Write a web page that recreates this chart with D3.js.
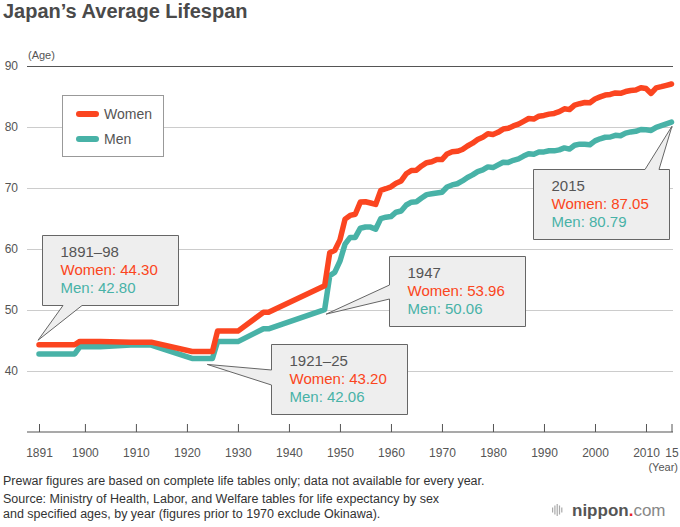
<!DOCTYPE html>
<html>
<head>
<meta charset="utf-8">
<script src="https://cdn.jsdelivr.net/npm/d3@7"></script>
<style>
  body { margin: 0; background: #fff; }
  svg { font-family: "Liberation Sans", Arial, Helvetica, sans-serif; }
</style>
</head>
<body>
<svg id="svg1" width="680" height="527"></svg>
<script>
// prewar complete life tables (period start/end years), then yearly from 1947
var years = [1891, 1898, 1899, 1903, 1909, 1913, 1921, 1925, 1926, 1930, 1935, 1936, 1947,
    1948, 1949, 1950, 1951, 1952, 1953, 1954, 1955, 1956, 1957, 1958, 1959,
    1960, 1961, 1962, 1963, 1964, 1965, 1966, 1967, 1968, 1969,
    1970, 1971, 1972, 1973, 1974, 1975, 1976, 1977, 1978, 1979,
    1980, 1981, 1982, 1983, 1984, 1985, 1986, 1987, 1988, 1989,
    1990, 1991, 1992, 1993, 1994, 1995, 1996, 1997, 1998, 1999,
    2000, 2001, 2002, 2003, 2004, 2005, 2006, 2007, 2008, 2009,
    2010, 2011, 2012, 2013, 2014, 2015];

var women = [44.30, 44.30, 44.85, 44.85, 44.73, 44.73, 43.20, 43.20, 46.54, 46.54, 49.63, 49.63, 53.96,
    59.40, 59.80, 61.50, 64.90, 65.50, 65.70, 67.69, 67.75, 67.54, 67.30, 69.61, 69.88,
    70.19, 70.79, 71.16, 72.34, 72.87, 72.92, 73.61, 74.15, 74.30, 74.67,
    74.66, 75.58, 75.94, 76.02, 76.31, 76.89, 77.35, 77.95, 78.33, 78.89,
    78.76, 79.13, 79.66, 79.78, 80.18, 80.48, 80.93, 81.39, 81.30, 81.77,
    81.90, 82.11, 82.22, 82.51, 82.98, 82.85, 83.59, 83.82, 84.01, 83.99,
    84.60, 84.93, 85.23, 85.33, 85.59, 85.52, 85.81, 85.99, 86.05, 86.44,
    86.30, 85.50, 86.41, 86.61, 86.83, 87.05];

var men = [42.80, 42.80, 43.97, 43.97, 44.25, 44.25, 42.06, 42.06, 44.82, 44.82, 46.92, 46.92, 50.06,
    55.60, 56.20, 58.00, 60.80, 61.90, 61.90, 63.41, 63.60, 63.59, 63.24, 64.98, 65.21,
    65.32, 66.03, 66.23, 67.21, 67.67, 67.74, 68.35, 68.91, 69.05, 69.18,
    69.31, 70.17, 70.50, 70.70, 71.16, 71.73, 72.15, 72.69, 72.97, 73.46,
    73.35, 73.79, 74.22, 74.20, 74.54, 74.78, 75.23, 75.61, 75.54, 75.91,
    75.92, 76.11, 76.09, 76.25, 76.57, 76.38, 77.01, 77.19, 77.16, 77.10,
    77.72, 78.07, 78.32, 78.36, 78.64, 78.56, 79.00, 79.19, 79.29, 79.59,
    79.55, 79.44, 79.94, 80.21, 80.50, 80.79];

var tickYears = [1891, 1900, 1910, 1920, 1930, 1940, 1950, 1960, 1970, 1980, 1990, 2000, 2010, 2015];
var tickAges = [40, 50, 60, 70, 80, 90];

var callouts = [
    {label: '1891\u201398', year: 1891, w: 44.30, m: 42.80},
    {label: '1921\u201325', year: 1924, w: 43.20, m: 42.06},
    {label: '1947', year: 1947, w: 53.96, m: 50.06},
    {label: '2015', year: 2015, w: 87.05, m: 80.79}
];

var orange = '#fb4520';
var teal = '#48b2a7';
var grey = '#555';

var svg = d3.select('svg');

var x = d3.scaleLinear().domain([1891, 2015]).range([39, 671.5]);
var y = d3.scaleLinear().domain([30, 90]).range([432, 66]);

// title
svg.append('text')
    .attr('x', 3).attr('y', 18)
    .attr('font-size', 20).attr('font-weight', 'bold')
    .attr('fill', '#4a4a4a')
    .text('Japan\u2019s Average Lifespan');

// y grid + labels
var yAxis = svg.append('g')
    .attr('transform', 'translate(27,0)')
    .call(d3.axisLeft(y).tickValues(tickAges).tickSize(-646).tickPadding(9));
yAxis.select('.domain').remove();
yAxis.selectAll('.tick line')
    .attr('stroke', function(d) { return d == 90 ? grey : '#ccc'; })
    .attr('stroke-width', function(d) { return d == 90 ? 1.2 : 1; });
yAxis.selectAll('.tick text')
    .attr('font-size', 12).attr('fill', grey)
    .attr('font-family', '"Liberation Sans", Arial, sans-serif');

svg.append('text')
    .attr('x', 28).attr('y', 59)
    .attr('font-size', 11).attr('fill', grey)
    .text('(Age)');

// x axis
var xAxis = svg.append('g')
    .attr('transform', 'translate(0,' + y(30) + ')')
    .call(d3.axisBottom(x).tickValues(tickYears).tickSize(-8).tickPadding(16.5)
        .tickFormat(function(d) { return d == 2015 ? '15' : d; }));
xAxis.select('.domain').remove();
xAxis.selectAll('.tick line').attr('stroke', grey);
xAxis.selectAll('.tick text')
    .attr('font-size', 12).attr('fill', grey)
    .attr('font-family', '"Liberation Sans", Arial, sans-serif');

svg.append('line')
    .attr('x1', 27).attr('x2', 673)
    .attr('y1', y(30)).attr('y2', y(30))
    .attr('stroke', grey).attr('stroke-width', 1.2);

svg.append('text')
    .attr('x', 678).attr('y', 471)
    .attr('text-anchor', 'end')
    .attr('font-size', 11).attr('fill', grey)
    .text('(Year)');

// lines
var line = d3.line()
    .x(function(d) { return x(d[0]); })
    .y(function(d) { return y(d[1]); });

[[men, teal], [women, orange]].forEach(function(s) {
    svg.append('path')
        .datum(years.map(function(yr, i) { return [yr, s[0][i]]; }))
        .attr('d', line)
        .attr('fill', 'none')
        .attr('stroke', s[1])
        .attr('stroke-width', 5.5)
        .attr('stroke-linejoin', 'round')
        .attr('stroke-linecap', 'round');
});

// legend
var legend = svg.append('g');
legend.append('rect')
    .attr('x', 62.5).attr('y', 95.5).attr('width', 101).attr('height', 61)
    .attr('fill', '#fff').attr('stroke', '#999');
[['Women', orange, 114], ['Men', teal, 139]].forEach(function(l) {
    legend.append('line')
        .attr('x1', 79).attr('x2', 96).attr('y1', l[2]).attr('y2', l[2])
        .attr('stroke', l[1]).attr('stroke-width', 6).attr('stroke-linecap', 'round');
    legend.append('text')
        .attr('x', 104).attr('y', l[2] + 5)
        .attr('font-size', 14).attr('fill', grey)
        .text(l[0]);
});

// callout boxes: box position + pointer
var boxes = [
    {x0: 42.5, y0: 235.5, side: 'bottom', a: 63, b: 82, dx: -1, dy: -4.5},
    {x0: 271.5, y0: 344.5, side: 'left', a: 370, b: 385, dx: 0, dy: 6},
    {x0: 389.5, y0: 256.5, side: 'left', a: 285, b: 299, dx: 1.5, dy: 4.5},
    {x0: 533.5, y0: 169.5, side: 'top', a: 645, b: 659, dx: 0.5, dy: 4}
];
var bw = 136, bh = 70;

callouts.forEach(function(c, i) {
    var b = boxes[i];
    var tx = x(c.year) + b.dx;
    var ty = y(c.m) + b.dy;
    if (c.year == 1891) ty = y(c.w) + b.dy;
    var x1 = b.x0 + bw, y1 = b.y0 + bh;
    var p = d3.path();
    p.moveTo(b.x0, b.y0);
    if (b.side == 'top') {
        p.lineTo(b.a, b.y0); p.lineTo(tx, ty); p.lineTo(b.b, b.y0);
    }
    p.lineTo(x1, b.y0);
    p.lineTo(x1, y1);
    if (b.side == 'bottom') {
        p.lineTo(b.b, y1); p.lineTo(tx, ty); p.lineTo(b.a, y1);
    }
    p.lineTo(b.x0, y1);
    if (b.side == 'left') {
        p.lineTo(b.x0, b.b); p.lineTo(tx, ty); p.lineTo(b.x0, b.a);
    }
    p.closePath();
    svg.append('path')
        .attr('d', p.toString())
        .attr('fill', '#eee').attr('stroke', '#666').attr('stroke-width', 1);

    var g = svg.append('g').attr('font-size', 15);
    g.append('text').attr('x', b.x0 + 18).attr('y', b.y0 + 21.5)
        .attr('fill', grey).text(c.label);
    g.append('text').attr('x', b.x0 + 18).attr('y', b.y0 + 39.5)
        .attr('fill', orange).text('Women: ' + c.w.toFixed(2));
    g.append('text').attr('x', b.x0 + 18).attr('y', b.y0 + 57.5)
        .attr('fill', teal).text('Men: ' + c.m.toFixed(2));
});

// footnotes
var notes = [
    ['Prewar figures are based on complete life tables only; data not available for every year.', 485],
    ['Source: Ministry of Health, Labor, and Welfare tables for life expectancy by sex', 503],
    ['and specified ages, by year (figures prior to 1970 exclude Okinawa).', 518]
];
notes.forEach(function(n) {
    svg.append('text')
        .attr('x', 3).attr('y', n[1])
        .attr('font-size', 12.5).attr('fill', '#333')
        .text(n[0]);
});

// logo
var bars = [5, 9, 12, 9, 5];
bars.forEach(function(h, i) {
    svg.append('rect')
        .attr('x', 552 + i * 2.3).attr('y', 510 - h / 2)
        .attr('width', 1.2).attr('height', h)
        .attr('fill', '#aaa');
});
var logo = svg.append('text')
    .attr('x', 572).attr('y', 516)
    .attr('font-size', 17).attr('fill', '#555');
logo.append('tspan').attr('font-weight', 'bold').text('nippon');
logo.append('tspan').attr('fill', '#e8232a').attr('font-weight', 'bold').text('.');
logo.append('tspan').attr('fill', '#888').text('com');
</script>
</body>
</html>
